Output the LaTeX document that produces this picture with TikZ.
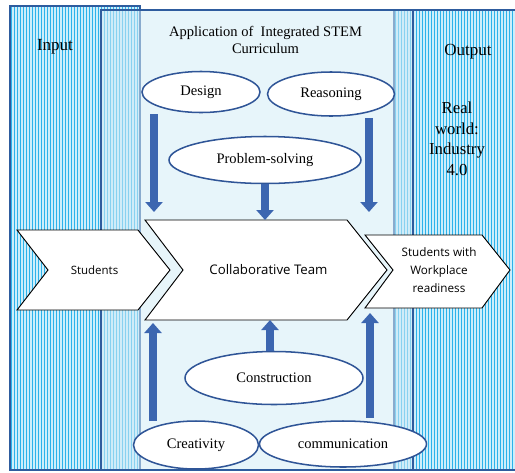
\documentclass[tikz,border=0pt]{standalone}
\usepackage{fontspec}
\setmainfont{Liberation Serif}
\newfontfamily\chevfont{Open Sans}
\usetikzlibrary{arrows.meta,calc,shapes.geometric,positioning}
\definecolor{stripeblue}{RGB}{45,178,234}
\definecolor{stripebg}{RGB}{205,238,251}
\definecolor{panelblue}{RGB}{46,92,158}
\definecolor{curricbg}{RGB}{212,236,246}
\definecolor{arrowblue}{RGB}{60,102,176}
\definecolor{ovalblue}{RGB}{47,85,151}

\begin{document}
\begin{tikzpicture}[x=0.03cm, y=-0.03cm,
		stripe/.style={draw=stripeblue, line width=0.048cm},
		panel/.style={draw=panelblue, line width=1.2pt},
		oval/.style={ellipse, draw=ovalblue, line width=1.3pt, fill=white, inner sep=0pt,
			font=\fontsize{12.4}{14.5}\selectfont},
		chev/.style={draw=black, line width=0.8pt, fill=white, line join=miter},
		chevtext/.style={align=center, font=\chevfont\fontsize{10}{15.6}\selectfont},
		blockarr/.style={draw=arrowblue, line width=0.24cm,
			-{Triangle[length=0.3cm, width=0.51cm]}}]
	\useasboundingbox (0,0) rectangle (515,472);
	% input and output panels
	\fill[stripebg] (10,6) rectangle (140,470);
	\foreach \x in {11.5,14.5,...,139} {
		\draw[stripe] (\x,6) -- (\x,470);
	}
	\draw[panel] (10,6) rectangle (140,470);
	\fill[stripebg] (394,10) rectangle (516,470);
	\foreach \x in {395.5,398.5,...,515} {
		\draw[stripe] (\x,10) -- (\x,470);
	}
	\draw[panel] (394,10) rectangle (516,470);
	% curriculum panel
	\fill[curricbg, fill opacity=0.55] (101,10) rectangle (413,470);
	\draw[panel] (101,10) rectangle (413,470);
	
	\node[font=\fontsize{14.5}{17}\selectfont] (input) at (55,47) {Input};
	\node[font=\fontsize{14.5}{17}\selectfont] (output) at (468,52) {Output};
	\node[align=center, font=\fontsize{14.3}{17.5}\selectfont] (real) at (457,139)
		{Real\\world:\\Industry\\4.0};
	\node[align=center, font=\fontsize{12.4}{14.5}\selectfont] (title) at (265.5,39.5)
		{Application of \ Integrated STEM\\Curriculum};
	
	% chevrons
	\draw[chev] (17,230) -- (138,230) -- (170,270) -- (138,310) -- (17,310) -- (48,270) -- cycle;
	\node[chevtext, font=\chevfont\fontsize{9.8}{12}\selectfont] (students) at (94.5,270) {Students};
	\draw[chev] (145,220) -- (347,220) -- (387,270) -- (347,320) -- (145,320) -- (183,270) -- cycle;
	\node[chevtext, font=\chevfont\fontsize{11.3}{13}\selectfont] (team) at (268.5,270) {Collaborative Team};
	\draw[chev] (365,235) -- (482,235) -- (510,270) -- (482,308) -- (365,308) -- (393,270) -- cycle;
	\node[chevtext] (ready) at (439,270) {Students with\\Workplace\\readiness};
	
	% skills
	\node[oval, minimum width=3.54cm, minimum height=1.23cm] (design) at (201,92) {Design};
	\node[oval, minimum width=3.81cm, minimum height=1.32cm] (reason) at (331,94) {Reasoning};
	\node[oval, minimum width=5.76cm, minimum height=1.41cm] (prob) at (265,160) {Problem-solving};
	\node[oval, minimum width=5.34cm, minimum height=1.59cm] (constr) at (274,378) {Construction};
	\node[oval, minimum width=3.75cm, minimum height=1.44cm] (creat) at (196,445) {Creativity};
	\node[oval, minimum width=5.01cm, minimum height=1.38cm] (comm) at (343,444) {communication};
	
	% arrow ends on the team chevron
	\coordinate (inL) at (154,212);
	\coordinate (inM) at (265,220);
	\coordinate (inR) at (369,212);
	\coordinate (upL) at (153,323);
	\coordinate (upM) at (270,320);
	\coordinate (upR) at (370,313);
	
	\draw[blockarr] ($(design.south)+(-47,1)$) -- (inL);
	\draw[blockarr] (prob.south) -- (inM);
	\draw[blockarr] ($(reason.south)+(38,1)$) -- (inR);
	\draw[blockarr] ($(creat.north)+(-43,1)$) -- (upL);
	\draw[blockarr] ($(constr.north)+(-4,0)$) -- (upM);
	\draw[blockarr] ($(comm.north)+(27,-2)$) -- (upR);
\end{tikzpicture}
\end{document}
